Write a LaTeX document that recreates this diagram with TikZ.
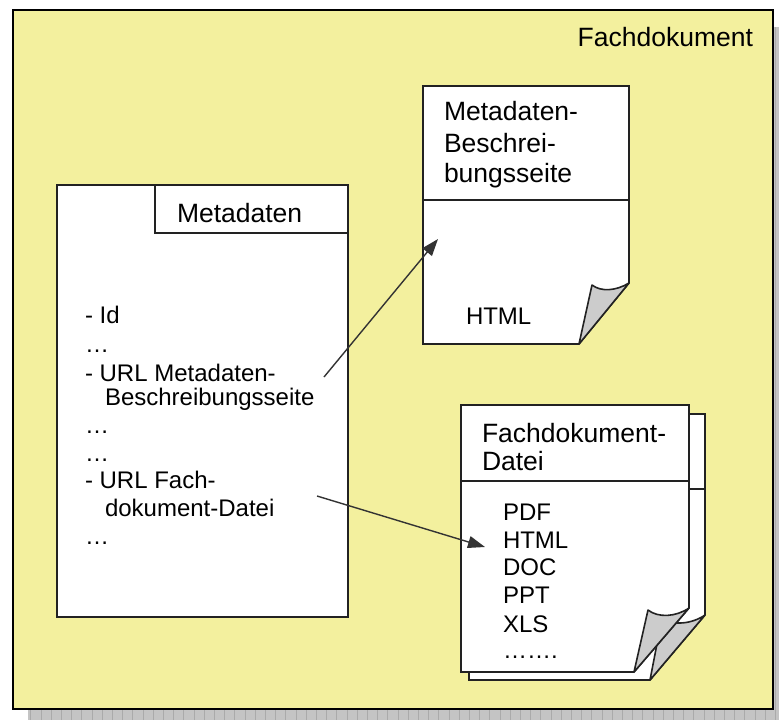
\documentclass[tikz,border=0pt]{standalone}
\usepackage{fontspec}
\setmainfont{Liberation Sans}
\usetikzlibrary{arrows.meta}

\definecolor{paneyellow}{RGB}{243,240,158}
\definecolor{shadowgrey}{RGB}{196,196,196}
\definecolor{shadowline}{RGB}{170,170,170}
\definecolor{flapgrey}{RGB}{204,204,204}
\definecolor{inkdark}{RGB}{34,34,34}
\definecolor{arrowink}{RGB}{51,51,51}

\tikzset{
  panebox/.style={fill=paneyellow, draw=black, line width=2.4pt},
  pagebox/.style={fill=white, draw=inkdark, line width=1.6pt, line join=miter},
  flapbox/.style={fill=flapgrey, draw=inkdark, line width=1.6pt, line join=round},
  divider/.style={draw=inkdark, line width=1.6pt},
  txt/.style={anchor=base west, inner sep=0pt, outer sep=0pt, font=\fontsize{24}{28}\selectfont},
  head/.style={txt, font=\fontsize{26.5}{30}\selectfont},
  link/.style={draw=arrowink, line width=1.4pt, -{Triangle[length=17pt,width=12pt]}},
}

\begin{document}
\begin{tikzpicture}[x=1pt, y=-1pt]
  \useasboundingbox (0,0) rectangle (779,720);
  \clip (0,0) rectangle (779,720);

  % drop shadow behind the pane, a fine grey grid
  \fill[shadowgrey] (28,27) rectangle (800,740);
  \draw[shadowline, line width=0.6pt, step=10.2] (28,27) grid (800,740);

  % the pane
  \draw[panebox] (13,10) rectangle (773,709);
  \node[head, anchor=base east] (paneTitle) at (753,46) {Fachdokument};

  % metadata record
  \draw[pagebox] (57,185) rectangle (348,617);
  \draw[pagebox] (155,185) rectangle (348,233);
  \node[head] (mdTitle) at (177,222) {Metadaten};
  \node[txt] (mdId)    at (85,323) {- Id};
  \node[txt] (mdDotsA) at (85,352) {…};
  \node[txt] (mdUrlA)  at (85,381) {- URL Metadaten-};
  \node[txt] (mdUrlAb) at (105,405) {Beschreibungsseite};
  \node[txt] (mdDotsB) at (85,433) {…};
  \node[txt] (mdDotsC) at (85,461) {…};
  \node[txt] (mdUrlB)  at (85,488) {- URL Fach-};
  \node[txt] (mdUrlBb) at (105,516) {dokument-Datei};
  \node[txt] (mdDotsD) at (85,544) {…};

  % description page (HTML)
  \draw[pagebox] (423,86) -- (629,86) -- (629,283) -- (579,344) -- (423,344) -- cycle;
  \draw[divider] (423,200) -- (629,200);
  \draw[flapbox] (579,344) -- (592,285) .. controls (601,292) and (616,291) .. (629,283) -- cycle;
  \node[head] (descA) at (444,120) {Metadaten-};
  \node[head] (descB) at (444,152) {Beschrei-};
  \node[head] (descC) at (444,182) {bungsseite};
  \node[txt] (descFmt) at (466,324) {HTML};

  % document file: back sheet
  \draw[pagebox] (469,414) -- (705,414) -- (705,615) -- (650,680) -- (469,680) -- cycle;
  \draw[divider] (469,489) -- (705,489);
  \draw[flapbox] (650,680) -- (662,618) .. controls (673,626) and (692,624) .. (705,615) -- cycle;

  % document file: front sheet
  \draw[pagebox] (461,405) -- (689,405) -- (689,608) -- (634,672) -- (461,672) -- cycle;
  \draw[divider] (461,481) -- (689,481);
  \draw[flapbox] (634,672) -- (648,610) .. controls (658,618) and (676,617) .. (689,608) -- cycle;
  \node[head] (fileA) at (482,442) {Fachdokument-};
  \node[head] (fileB) at (482,470) {Datei};
  \node[txt] (fmtPdf)  at (503,520) {PDF};
  \node[txt] (fmtHtml) at (503,548) {HTML};
  \node[txt] (fmtDoc)  at (503,575) {DOC};
  \node[txt] (fmtPpt)  at (503,603) {PPT};
  \node[txt] (fmtXls)  at (503,632) {XLS};
  \node[txt] (fmtMore) at (503,658) {…….};

  % links from the record to the pages
  \coordinate (linkDescFrom) at (324,377);
  \coordinate (linkDescTo)   at (438,239);
  \coordinate (linkFileFrom) at (317,496);
  \coordinate (linkFileTo)   at (485,547);
  \draw[link] (linkDescFrom) -- (linkDescTo);
  \draw[link] (linkFileFrom) -- (linkFileTo);
\end{tikzpicture}
\end{document}
